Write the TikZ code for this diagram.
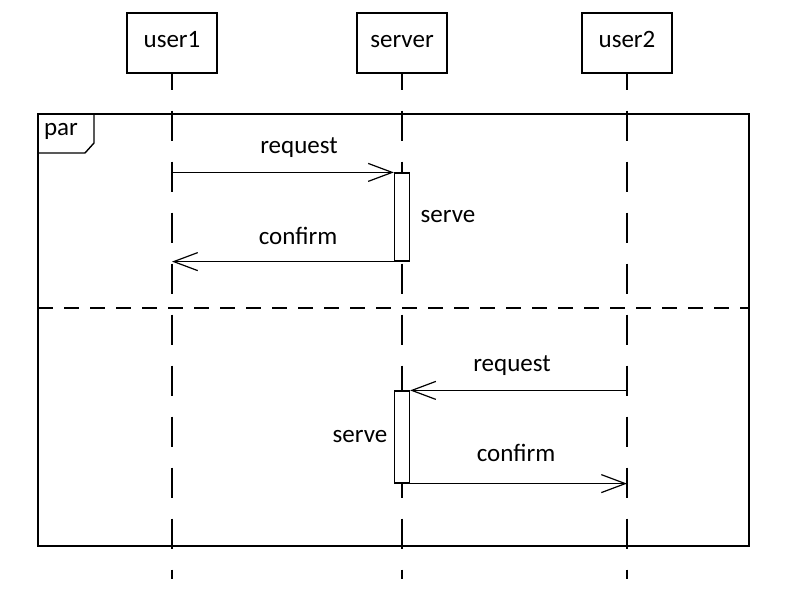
\documentclass[tikz,border=0pt]{standalone}
\usepackage{fontspec}
\setmainfont{Carlito}
\usetikzlibrary{positioning, arrows.meta}

\begin{document}
\begin{tikzpicture}[x=1pt, y=-1pt, line width=1.2pt,
    font=\fontsize{25}{29}\selectfont,
    actor/.style = {draw, line width=1.4pt, minimum width=90pt, minimum height=60pt, inner sep=0pt, text height=2ex, text depth=0pt},
    bar/.style = {draw, fill=white, minimum width=15pt, inner sep=0pt},
    lifeline/.style = {dash pattern=on 30pt off 21pt, dash phase=14pt},
    msg/.style = {-{Straight Barb[length=24pt, width=18pt]}},
    lbl/.style = {inner sep=0pt}]
    \useasboundingbox (0,0) rectangle (791,603);

    % heads and lifelines
    \node[actor] (user1) at (172,43) {user1};
    \node[actor] (server) at (402,43) {server};
    \node[actor] (user2) at (627,43) {user2};
    \foreach \who in {user1, server, user2}
        \draw[lifeline] (\who.south) -- ++(0,505);

    % par frame
    \draw[line width=1.4pt] (38,114) rectangle (749,546);
    \draw[line width=1.4pt] (38,153) -- (85,153) -- (94,143) -- (94,114);
    \node[lbl] (partag) at (61,131) {par};
    \draw[dash pattern=on 15pt off 11pt] (38,308) -- (749,308);

    % activations
    \node[bar, minimum height=88pt] (bar1) at (402,217) {};
    \node[bar, minimum height=92pt] (bar2) at (402,437) {};

    \coordinate (u1req) at (user1 |- bar1.north);
    \coordinate (u1conf) at (user1 |- bar1.south);
    \coordinate (u2req) at (user2 |- bar2.north);
    \coordinate (u2conf) at (user2 |- bar2.south);

    % messages
    \draw[msg] (u1req) -- (bar1.north west);
    \draw[msg] (bar1.south west) -- (u1conf);
    \draw[msg] (u2req) -- (bar2.north east);
    \draw[msg] (bar2.south east) -- (u2conf);

    \node[lbl] (req1) at (299,148) {request};
    \node[lbl] (conf1) at (298,236) {confirm};
    \node[lbl] (serve1) [right=10pt of bar1] {serve};
    \node[lbl] (req2) at (512,366) {request};
    \node[lbl] (serve2) [left=6pt of bar2] {serve};
    \node[lbl] (conf2) at (516,453) {confirm};
\end{tikzpicture}
\end{document}
